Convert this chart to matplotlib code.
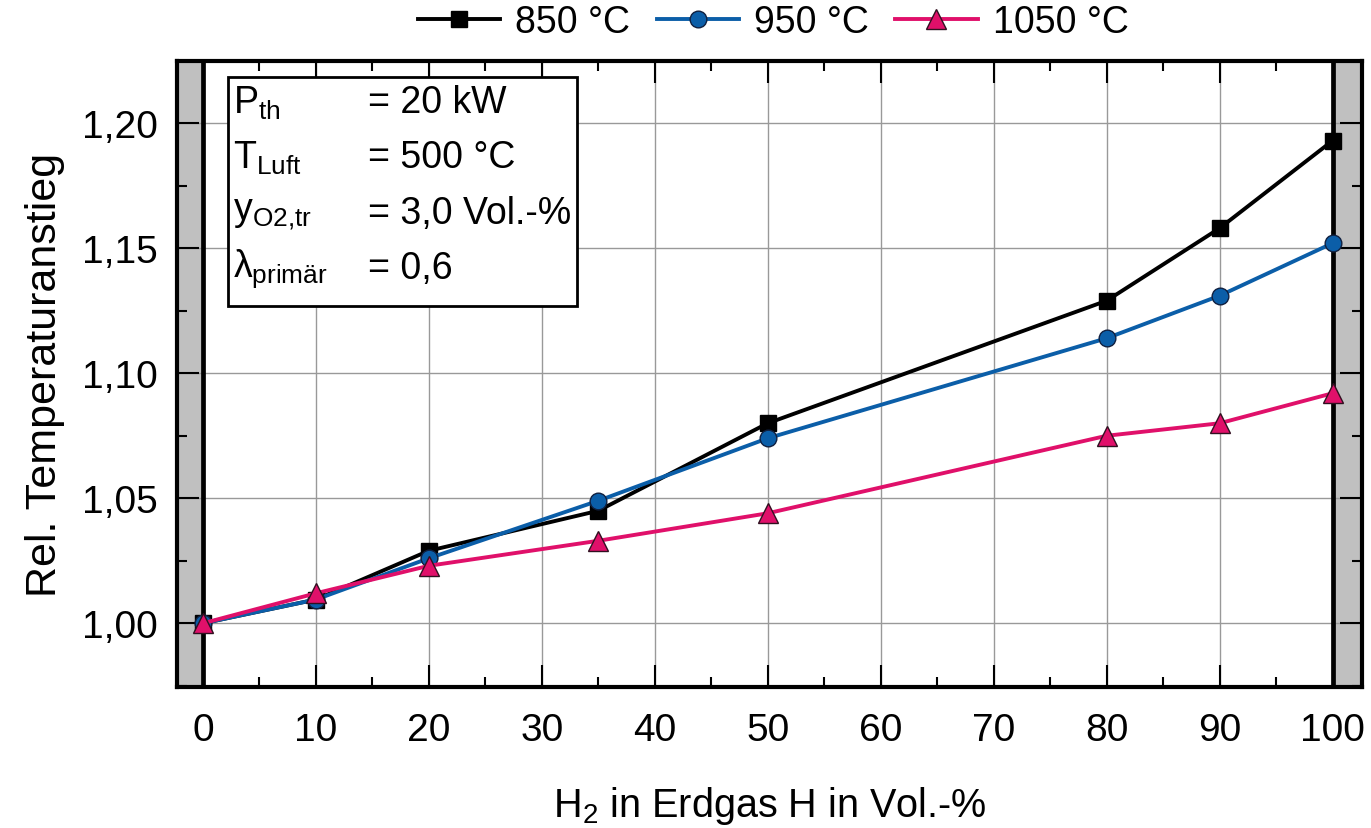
import matplotlib
matplotlib.use("Agg")
import matplotlib.pyplot as plt
from matplotlib.patches import Rectangle
from matplotlib.ticker import MultipleLocator, FuncFormatter

plt.rcParams['font.family'] = ['Liberation Sans', 'DejaVu Sans']
plt.rcParams['mathtext.fontset'] = 'custom'
plt.rcParams['mathtext.rm'] = 'Liberation Sans'
plt.rcParams['mathtext.it'] = 'Liberation Sans'

# H2 share in natural gas (vol.-%)
h2_share = [0, 10, 20, 35, 50, 80, 90, 100]

# relative temperature rise per furnace temperature
rise_850 = [1.000, 1.0095, 1.029, 1.045, 1.080, 1.129, 1.158, 1.193]
rise_950 = [1.000, 1.0095, 1.026, 1.049, 1.074, 1.114, 1.131, 1.152]
rise_1050 = [1.000, 1.012, 1.023, 1.033, 1.044, 1.075, 1.080, 1.092]

series_labels = ['850 °C', '950 °C', '1050 °C']
x_ticks = [0, 10, 20, 30, 40, 50, 60, 70, 80, 90, 100]
y_ticks = [1.00, 1.05, 1.10, 1.15, 1.20]

fig = plt.figure(figsize=(13.71, 8.29), dpi=100)
ax = fig.add_axes([0.129, 0.170, 0.8644, 0.755])

xmin, xmax = -2.3, 102.6
ymin, ymax = 0.9745, 1.2248
ax.set_xlim(xmin, xmax)
ax.set_ylim(ymin, ymax)

# shaded regions outside the 0..100 % range
grey = '#c0c0c0'
ax.axvspan(xmin, 0, color=grey, zorder=0, lw=0)
ax.axvspan(100, xmax, color=grey, zorder=0, lw=0)

ax.set_xticks(x_ticks)
ax.set_yticks(y_ticks)
ax.xaxis.set_minor_locator(MultipleLocator(5))
ax.yaxis.set_minor_locator(MultipleLocator(0.025))
ax.yaxis.set_major_formatter(FuncFormatter(lambda v, p: f"{v:.2f}".replace('.', ',')))
ax.grid(True, which='major', color='#999999', lw=1.0, zorder=0.5)

ax.axvline(0, color='black', lw=3.4, zorder=2)
ax.axvline(100, color='black', lw=3.4, zorder=2)

for s in ax.spines.values():
    s.set_linewidth(3.0)
    s.set_zorder(5)

ax.tick_params(which='both', direction='in', top=True, right=True,
               labelsize=28, width=1.5)
ax.tick_params(axis='x', which='both', pad=18)
ax.tick_params(axis='y', which='both', pad=14)
ax.tick_params(which='major', length=16)
ax.tick_params(which='minor', length=7)

ax.plot(h2_share, rise_850, color='black', lw=2.8, marker='s', ms=11,
        mfc='black', mec='black', mew=1, label=series_labels[0], zorder=3,
        clip_on=False)
ax.plot(h2_share, rise_950, color='#0b5ea8', lw=2.8, marker='o', ms=12,
        mfc='#0b5ea8', mec='#102040', mew=1, label=series_labels[1], zorder=3,
        clip_on=False)
ax.plot(h2_share, rise_1050, color='#e0106a', lw=2.8, marker='^', ms=14,
        mfc='#e0106a', mec='#301020', mew=1, label=series_labels[2], zorder=3,
        clip_on=False)

ax.set_xlabel(r'H$_2$ in Erdgas H in Vol.-%', fontsize=28.5, labelpad=26)
ax.set_ylabel('Rel. Temperaturanstieg', fontsize=31, labelpad=12)

# parameter box
box = Rectangle((0.0435, 0.609), 0.294, 0.365, transform=ax.transAxes,
                facecolor='white', edgecolor='black', lw=2.0, zorder=6)
ax.add_patch(box)
params = [
    (r'P$_{\mathrm{th}}$', '= 20 kW'),
    (r'T$_{\mathrm{Luft}}$', '= 500 °C'),
    (r'y$_{\mathrm{O2{,}tr}}$', '= 3,0 Vol.-%'),
    (r'$\lambda_{\mathrm{primär}}$', '= 0,6'),
]
row_y = [0.934, 0.847, 0.758, 0.670]
for (name, val), yy in zip(params, row_y):
    ax.text(0.0475, yy, name, transform=ax.transAxes, fontsize=27,
            va='center', ha='left', zorder=7)
    ax.text(0.161, yy, val, transform=ax.transAxes, fontsize=27,
            va='center', ha='left', zorder=7)

fig.legend(loc='center', bbox_to_anchor=(0.564, 0.972), ncol=3,
           frameon=False, fontsize=27, handlelength=2.2, columnspacing=0.7,
           handletextpad=0.4, borderaxespad=0)

fig.savefig('out.png', dpi=100)
